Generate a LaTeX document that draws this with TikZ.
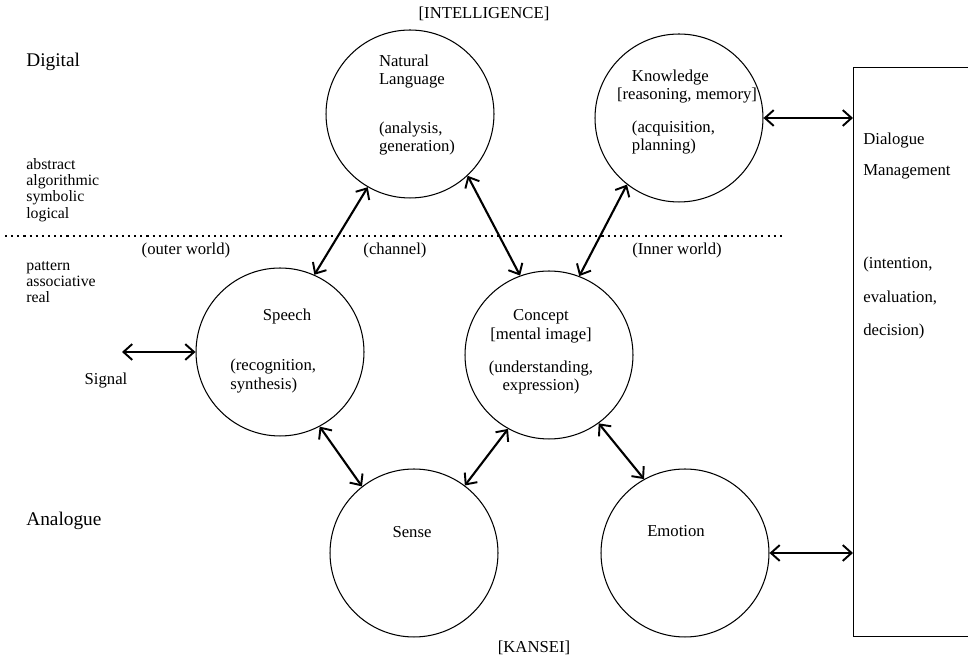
\documentclass[tikz,border=0pt]{standalone}
\usepackage{fontspec}
\setmainfont{Liberation Serif}
\usepackage{tikz}
\usetikzlibrary{arrows.meta,calc,positioning}
\newcommand{\circsz}{\fontsize{9.5}{10.5}\selectfont}
\newcommand{\sidesz}{\fontsize{9}{9.3}\selectfont}
\newcommand{\bigsz}{\fontsize{11}{12}\selectfont}

\begin{document}
\begin{tikzpicture}[x=0.02cm,y=-0.02cm,
  >={Straight Barb[length=5pt,width=9pt,line width=1.1pt]},
  circ/.style={circle,draw,line width=0.6pt,minimum size=3.36cm,inner sep=0pt},
  lbl/.style={font=\circsz,inner sep=0pt},
  link/.style={<->,line width=1.2pt}]
  \useasboundingbox (0,0) rectangle (968,661);
  % circles
  \node[circ] (nl) at (410,114) {};
  \node[circ] (kn) at (679,118) {};
  \node[circ] (sp) at (280,352) {};
  \node[circ] (co) at (549,355) {};
  \node[circ] (se) at (414,553) {};
  \node[circ] (em) at (685,553) {};
  \node[draw,line width=0.6pt,anchor=north west,minimum width=2.8cm,minimum height=11.38cm] (dm) at (853,67) {};
  % texts in circles
  \node[lbl,align=left] (nltxt) at (417,105) {Natural\\Language\\[17pt](analysis,\\generation)};
  \node[lbl,align=left] (kntxt) at (687,112) {\hspace*{8.5pt}Knowledge\\{[}reasoning, memory{]}\\[8pt]\hspace*{8.5pt}(acquisition,\\\hspace*{8.5pt}planning)};
  \node[lbl] (sptxt) at (287,316) {Speech};
  \node[lbl,align=left,anchor=west] (spsub) at (230,376) {(recognition,\\synthesis)};
  \node[lbl,align=center] (cotxt) at (541,352) {Concept\\{[}mental image{]}\\[8.5pt](understanding,\\expression)};
  \node[lbl] (setxt) at (412,532) {Sense};
  \node[lbl] (emtxt) at (676,531) {Emotion};
  \foreach \y/\t in {141/Dialogue,172/Management,264/{(intention,},298/{evaluation,},331/{decision)}}
    \node[lbl,anchor=west] at (863,\y) {\t};
  % levels
  \node[lbl] (intel) at (484,14) {[INTELLIGENCE]};
  \node[lbl] (kansei) at (534,648) {[KANSEI]};
  \node[font=\bigsz,anchor=west,inner sep=0pt] (dig) at (26,62) {Digital};
  \node[font=\bigsz,anchor=west,inner sep=0pt] (ana) at (26,521) {Analogue};
  \node[font=\sidesz,align=left,anchor=west,inner sep=0pt] (abs) at (26,190) {abstract\\algorithmic\\symbolic\\logical};
  \node[font=\sidesz,align=left,anchor=west,inner sep=0pt] (pat) at (26,282) {pattern\\associative\\real};
  \draw[line width=1.1pt,dash pattern=on 1.2pt off 2.3pt] (5,236) -- (785,236);
  \node[lbl] (outer) at (186,250) {(outer world)};
  \node[lbl] (chan) at (395,250) {(channel)};
  \node[lbl] (inner) at (677,250) {(Inner world)};
  % links
  \coordinate (sig) at (122,352);
  \node[lbl] (sigtxt) at (106,381) {Signal};
  \draw[link] (sig) -- (sp.west);
  \draw[link] (sp.66) -- (nl.240);
  \draw[link] (nl.313) -- (co.110);
  \draw[link] (kn.232) -- (co.69);
  \draw[link] (sp.298) -- (se.128);
  \draw[link] (co.241) -- (se.53);
  \draw[link] (co.306) -- (em.119);
  \draw[link] (kn.east) -- (kn.east -| dm.west);
  \draw[link] (em.east) -- (em.east -| dm.west);
\end{tikzpicture}
\end{document}
